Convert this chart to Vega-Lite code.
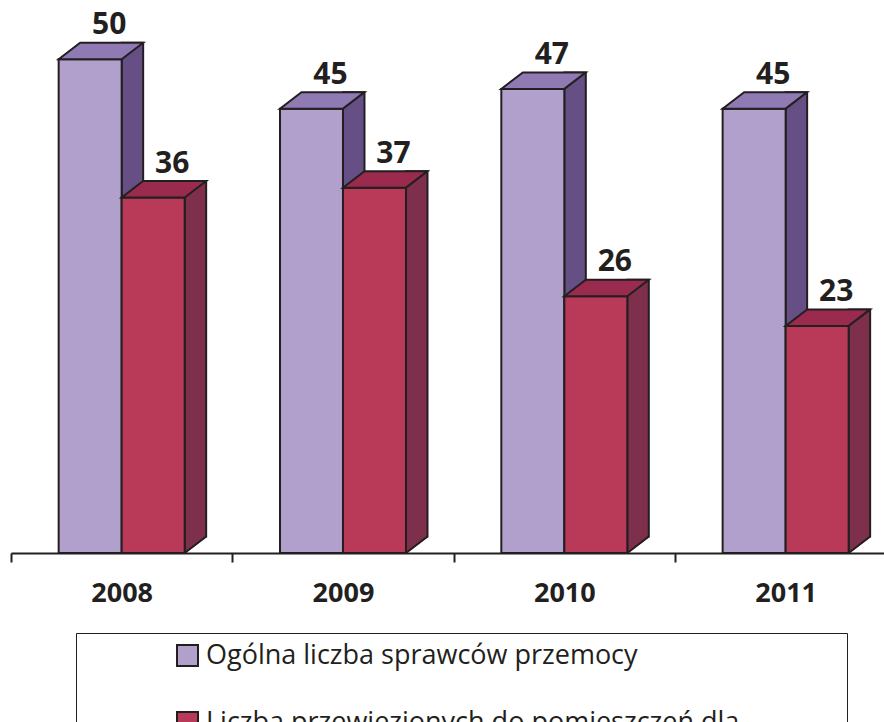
{
  "$schema": "https://vega.github.io/schema/vega-lite/v6.json",
  "autosize": {"type": "none"},
  "width": 873,
  "height": 553,
  "padding": {"left": 11, "top": 0, "right": 0, "bottom": 169},
  "background": "white",
  "config": {"view": {"stroke": null}, "font": "Open Sans"},
  "data": {
    "values": [
      {"year": "2008", "series": "Ogólna liczba sprawców przemocy", "value": 50},
      {"year": "2008", "series": "Liczba przewiezionych do pomieszczeń dla", "value": 36},
      {"year": "2009", "series": "Ogólna liczba sprawców przemocy", "value": 45},
      {"year": "2009", "series": "Liczba przewiezionych do pomieszczeń dla", "value": 37},
      {"year": "2010", "series": "Ogólna liczba sprawców przemocy", "value": 47},
      {"year": "2010", "series": "Liczba przewiezionych do pomieszczeń dla", "value": 26},
      {"year": "2011", "series": "Ogólna liczba sprawców przemocy", "value": 45},
      {"year": "2011", "series": "Liczba przewiezionych do pomieszczeń dla", "value": 23}
    ]
  },
  "encoding": {
    "x": {
      "field": "year",
      "type": "nominal",
      "scale": {"range": [0, 885.3], "paddingInner": 0, "paddingOuter": 0},
      "axis": {
        "title": null,
        "labelAngle": 0,
        "labelFontSize": 27,
        "labelFontWeight": "bold",
        "labelColor": "#231f20",
        "labelFont": "Open Sans",
        "domainColor": "#231f20",
        "domainWidth": 2,
        "tickColor": "#231f20",
        "tickWidth": 2,
        "tickSize": 9,
        "tickBand": "extent",
        "labelPadding": 18,
        "zindex": 1
      }
    },
    "y": {"field": "value", "type": "quantitative", "scale": {"domain": [0, 56]}, "axis": null}
  },
  "layer": [
    {
      "transform": [{"filter": "datum.series === 'Ogólna liczba sprawców przemocy'"}],
      "mark": {"type": "bar", "width": 21.5, "xOffset": 10.75, "yOffset": -16.5, "stroke": "#231f20", "strokeWidth": 2, "fill": "#654f85"},
      "encoding": {"y2": {"datum": 0}}
    },
    {
      "transform": [{"filter": "datum.series !== 'Ogólna liczba sprawców przemocy'"}],
      "mark": {"type": "bar", "width": 21.5, "xOffset": 73.75, "yOffset": -16.5, "stroke": "#231f20", "strokeWidth": 2, "fill": "#7e2f4b"},
      "encoding": {"y2": {"datum": 0}}
    },
    {
      "mark": {"type": "bar", "stroke": "#231f20", "strokeWidth": 2},
      "encoding": {
        "xOffset": {
          "field": "series",
          "type": "nominal",
          "sort": ["Ogólna liczba sprawców przemocy", "Liczba przewiezionych do pomieszczeń dla"],
          "scale": {"paddingInner": 0, "paddingOuter": 0.7566}
        },
        "fill": {
          "field": "series",
          "type": "nominal",
          "sort": ["Ogólna liczba sprawców przemocy", "Liczba przewiezionych do pomieszczeń dla"],
          "scale": {"range": ["#b1a0cb", "#b93a58"]},
          "legend": {
            "title": null,
            "orient": "none",
            "legendX": 65,
            "legendY": 633,
            "direction": "vertical",
            "symbolType": "M-1,-1H1V1H-1ZM61.5,0",
            "symbolSize": 441,
            "symbolStrokeColor": "#231f20",
            "symbolStrokeWidth": 2,
            "labelFontSize": 27,
            "labelFont": "Open Sans",
            "labelColor": "#231f20",
            "labelLimit": 1000,
            "labelOffset": 5,
            "rowPadding": 38,
            "padding": 9,
            "strokeColor": "#231f20",
            "fillColor": "white",
            "symbolOffset": 89
          }
        }
      }
    },
    {
      "mark": {"type": "point", "shape": "M-31.5,0L31.5,0L53,-16.5L-10,-16.5Z", "size": 4, "filled": true, "opacity": 1, "stroke": "#231f20", "strokeWidth": 2},
      "encoding": {
        "xOffset": {"field": "series", "type": "nominal", "sort": ["Ogólna liczba sprawców przemocy", "Liczba przewiezionych do pomieszczeń dla"]},
        "fill": {"condition": {"test": "datum.series === 'Ogólna liczba sprawców przemocy'", "value": "#8f7ab3"}, "value": "#9b2b4e"}
      }
    },
    {
      "transform": [{"filter": "datum.series !== 'Ogólna liczba sprawców przemocy'"}],
      "mark": {"type": "point", "shape": "M32.5,0L53,-15.5L56,-15.5L56,3L32.5,3Z", "size": 4, "filled": true, "opacity": 1, "fill": "white", "strokeWidth": 0},
      "encoding": {
        "xOffset": {"field": "series", "type": "nominal", "sort": ["Ogólna liczba sprawców przemocy", "Liczba przewiezionych do pomieszczeń dla"]},
        "y": {"datum": 0}
      }
    },
    {
      "transform": [{"filter": "datum.series !== 'Ogólna liczba sprawców przemocy'"}],
      "mark": {"type": "point", "shape": "M31.5,0L53,-16.5", "size": 4, "filled": false, "opacity": 1, "stroke": "#231f20", "strokeWidth": 2},
      "encoding": {
        "xOffset": {"field": "series", "type": "nominal", "sort": ["Ogólna liczba sprawców przemocy", "Liczba przewiezionych do pomieszczeń dla"]},
        "y": {"datum": 0}
      }
    },
    {
      "mark": {"type": "text", "dx": 19, "dy": -25, "baseline": "alphabetic", "fontSize": 30, "fontWeight": "bold", "color": "#231f20", "font": "Open Sans"},
      "encoding": {
        "xOffset": {"field": "series", "type": "nominal", "sort": ["Ogólna liczba sprawców przemocy", "Liczba przewiezionych do pomieszczeń dla"]},
        "text": {"field": "value", "type": "quantitative"}
      }
    }
  ]
}
